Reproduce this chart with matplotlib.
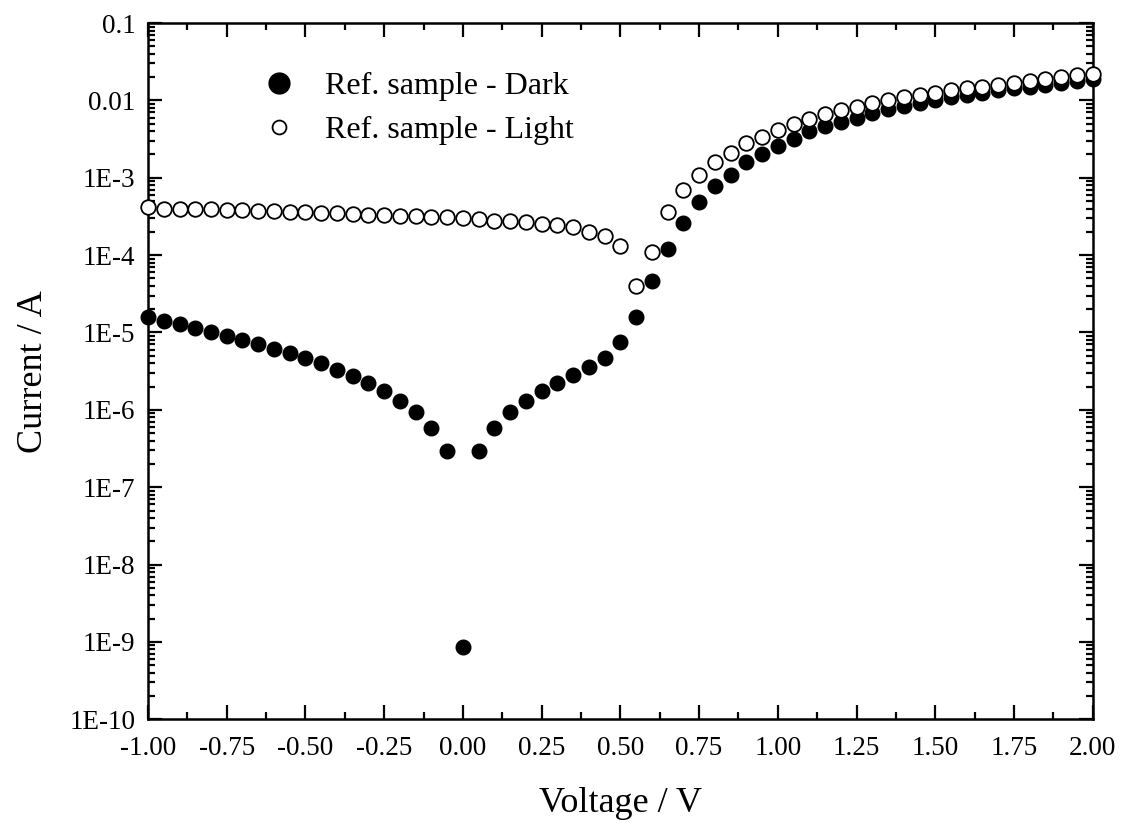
import numpy as np
import matplotlib
matplotlib.use("Agg")
import matplotlib.pyplot as plt
from matplotlib.ticker import FixedLocator, FuncFormatter, LogLocator, NullFormatter

plt.rcParams['font.family'] = ['Liberation Serif', 'DejaVu Serif']

# --- Data ---
voltage = [-1.00, -0.95, -0.90, -0.85, -0.80, -0.75, -0.70, -0.65, -0.60, -0.55,
           -0.50, -0.45, -0.40, -0.35, -0.30, -0.25, -0.20, -0.15, -0.10, -0.05,
           0.00, 0.05, 0.10, 0.15, 0.20, 0.25, 0.30, 0.35, 0.40, 0.45,
           0.50, 0.55, 0.60, 0.65, 0.70, 0.75, 0.80, 0.85, 0.90, 0.95,
           1.00, 1.05, 1.10, 1.15, 1.20, 1.25, 1.30, 1.35, 1.40, 1.45,
           1.50, 1.55, 1.60, 1.65, 1.70, 1.75, 1.80, 1.85, 1.90, 1.95, 2.00]

current_dark = [1.58e-5, 1.4e-5, 1.3e-5, 1.15e-5, 1.0e-5, 9.0e-6, 8.0e-6, 7.0e-6, 6.2e-6, 5.4e-6,
                4.7e-6, 4.0e-6, 3.3e-6, 2.7e-6, 2.2e-6, 1.75e-6, 1.3e-6, 9.3e-7, 5.9e-7, 2.9e-7,
                8.5e-10, 2.9e-7, 5.9e-7, 9.3e-7, 1.3e-6, 1.75e-6, 2.25e-6, 2.8e-6, 3.6e-6, 4.7e-6,
                7.6e-6, 1.6e-5, 4.6e-5, 1.2e-4, 2.6e-4, 4.8e-4, 7.8e-4, 1.1e-3, 1.6e-3, 2.0e-3,
                2.6e-3, 3.2e-3, 4.0e-3, 4.6e-3, 5.3e-3, 6.0e-3, 6.8e-3, 7.7e-3, 8.4e-3, 9.2e-3,
                1.0e-2, 1.1e-2, 1.17e-2, 1.25e-2, 1.35e-2, 1.43e-2, 1.5e-2, 1.6e-2, 1.7e-2, 1.8e-2, 1.9e-2]

current_light = [4.2e-4, 4.0e-4, 4.0e-4, 3.9e-4, 3.9e-4, 3.8e-4, 3.8e-4, 3.7e-4, 3.7e-4, 3.6e-4,
                 3.6e-4, 3.5e-4, 3.5e-4, 3.4e-4, 3.3e-4, 3.3e-4, 3.2e-4, 3.2e-4, 3.1e-4, 3.1e-4,
                 3.0e-4, 2.9e-4, 2.8e-4, 2.75e-4, 2.65e-4, 2.5e-4, 2.45e-4, 2.3e-4, 2.0e-4, 1.75e-4,
                 1.3e-4, 4.0e-5, 1.1e-4, 3.6e-4, 7.0e-4, 1.1e-3, 1.6e-3, 2.1e-3, 2.8e-3, 3.4e-3,
                 4.2e-3, 4.9e-3, 5.7e-3, 6.6e-3, 7.5e-3, 8.2e-3, 9.2e-3, 1.0e-2, 1.1e-2, 1.17e-2,
                 1.25e-2, 1.35e-2, 1.45e-2, 1.5e-2, 1.6e-2, 1.7e-2, 1.8e-2, 1.9e-2, 2.0e-2, 2.1e-2, 2.2e-2]

x_ticks = [-1.00, -0.75, -0.50, -0.25, 0.00, 0.25, 0.50, 0.75, 1.00, 1.25, 1.50, 1.75, 2.00]
y_ticks = [1e-10, 1e-9, 1e-8, 1e-7, 1e-6, 1e-5, 1e-4, 1e-3, 1e-2, 1e-1]
y_labels = ['1E-10', '1E-9', '1E-8', '1E-7', '1E-6', '1E-5', '1E-4', '1E-3', '0.01', '0.1']

# --- Figure ---
fig = plt.figure(figsize=(11.3, 8.23), dpi=100)
ax = fig.add_axes([0.131, 0.126, 0.836, 0.846])

ax.plot(voltage, current_dark, 'o', color='black', markersize=10.5,
        label='Ref. sample - Dark', clip_on=False, zorder=3)
ax.plot(voltage, current_light, 'o', markerfacecolor='white', markeredgecolor='black',
        markeredgewidth=1.3, markersize=10.5, label='Ref. sample - Light', clip_on=False, zorder=4)

ax.set_yscale('log')
ax.set_xlim(-1.0, 2.0)
ax.set_ylim(1e-10, 0.1)

ax.xaxis.set_major_locator(FixedLocator(x_ticks))
ax.xaxis.set_minor_locator(FixedLocator(np.arange(-1.0, 2.01, 0.125)))
ax.xaxis.set_major_formatter(FuncFormatter(lambda v, p: f'{v:.2f}'))

ax.set_yticks(y_ticks)
ax.set_yticklabels(y_labels)
ax.yaxis.set_minor_locator(LogLocator(base=10, subs=np.arange(2, 10), numticks=20))
ax.yaxis.set_minor_formatter(NullFormatter())

ax.tick_params(which='both', direction='in', top=True, right=True, width=1.6,
               labelsize=19.5, colors='black')
ax.tick_params(which='major', length=10)
ax.tick_params(axis='x', which='major', pad=12)
ax.tick_params(axis='y', which='major', pad=9)
ax.tick_params(which='minor', length=5)
for s in ax.spines.values():
    s.set_linewidth(1.8)

ax.set_xlabel('Voltage / V', fontsize=26, labelpad=19)
ax.set_ylabel('Current / A', fontsize=26, labelpad=14)

leg = ax.legend(loc='upper left', bbox_to_anchor=(0.118, 0.93), frameon=False, fontsize=23,
                handlelength=1.2, handletextpad=0.85, labelspacing=0.45,
                borderaxespad=0, borderpad=0)
leg.legend_handles[0].set_markersize(15)
leg.legend_handles[1].set_markersize(10)

fig.savefig('out.png', dpi=100)
